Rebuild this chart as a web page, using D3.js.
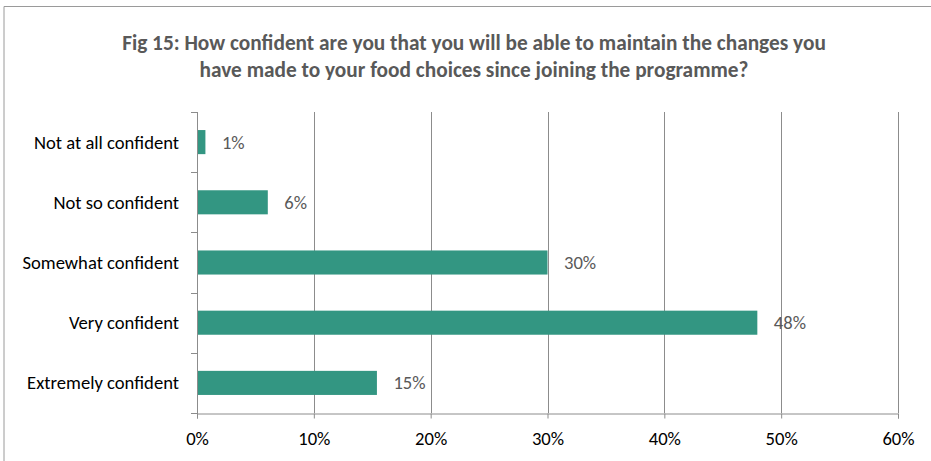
<!DOCTYPE html>
<html>
<head>
<meta charset="utf-8">
<script src="https://cdn.jsdelivr.net/npm/d3@7"></script>
<style>
  html, body { margin: 0; padding: 0; background: #fff; }
  svg { display: block; }
  text { font-family: Carlito, Lato, "Open Sans", sans-serif; }
</style>
</head>
<body>
<svg id="chart" width="931" height="461"></svg>
<script>
// Survey responses: confidence in maintaining food-choice changes
const categories = [
  "Not at all confident",
  "Not so confident",
  "Somewhat confident",
  "Very confident",
  "Extremely confident"
];
const shares = [0.0072, 0.0606, 0.300, 0.4796, 0.154];
const xTicks = [0, 0.1, 0.2, 0.3, 0.4, 0.5, 0.6];
const titleLines = [
  "Fig 15: How confident are you that you will be able to maintain the changes you",
  "have made to your food choices since joining the programme?"
];

const svg = d3.select("#chart");
const W = 931, H = 461;
const plot = { left: 197, right: 898, top: 112, bottom: 413 };
const barColor = "#339682";
const gridColor = "#8c8c8c";
const labelGray = "#595959";

// Frame around the chart area
svg.append("path")
  .attr("d", `M4,${H} V6.5 H${W}`)
  .attr("fill", "none")
  .attr("stroke", "#9a9a9a")
  .attr("stroke-width", 1);

const x = d3.scaleLinear().domain([0, 0.6]).range([plot.left, plot.right]);
const y = d3.scaleBand()
  .domain(categories)
  .range([plot.top, plot.bottom])
  .paddingInner(0.6)
  .paddingOuter(0.3);

// Fit a text node's font size to a target width
function fit(sel, target) {
  sel.each(function () {
    const n = d3.select(this);
    const base = parseFloat(n.attr("font-size"));
    const w = this.getComputedTextLength();
    n.attr("font-size", (base * target / w).toFixed(2));
  });
}

// Title
const title = svg.append("g").attr("fill", labelGray).attr("font-weight", "bold");
title.selectAll("text").data(titleLines).join("text")
  .attr("x", 474)
  .attr("y", (d, i) => 50 + i * 27)
  .attr("text-anchor", "middle")
  .attr("font-size", 18)
  .text(d => d);
fit(title.select("text"), 704);
title.selectAll("text").attr("font-size", title.select("text").attr("font-size"));

// Vertical gridlines
svg.append("g").selectAll("line")
  .data(xTicks.filter(t => t > 0))
  .join("line")
  .attr("x1", d => Math.round(x(d)) + 0.5)
  .attr("x2", d => Math.round(x(d)) + 0.5)
  .attr("y1", plot.top)
  .attr("y2", plot.bottom)
  .attr("stroke", gridColor)
  .attr("stroke-width", 1);

// Bars
svg.append("g").selectAll("rect")
  .data(categories)
  .join("rect")
  .attr("x", x(0))
  .attr("y", d => y(d))
  .attr("width", (d, i) => x(shares[i]) - x(0))
  .attr("height", y.bandwidth())
  .attr("fill", barColor);

// X axis
const xAxis = svg.append("g")
  .attr("transform", `translate(0,${plot.bottom + 0.5})`)
  .call(d3.axisBottom(x).tickValues(xTicks).tickFormat(d3.format(".0%")).tickSize(5).tickPadding(13));
xAxis.select(".domain").attr("stroke", gridColor);
xAxis.selectAll(".tick line").attr("stroke", gridColor);
xAxis.selectAll(".tick text").attr("fill", "#000").attr("font-size", 15);

// Y axis: line plus ticks at category boundaries
svg.append("line")
  .attr("x1", plot.left + 0.5).attr("x2", plot.left + 0.5)
  .attr("y1", plot.top).attr("y2", plot.bottom + 5)
  .attr("stroke", gridColor);
const bounds = d3.range(categories.length + 1).map(i => plot.top + i * y.step());
svg.append("g").selectAll("line")
  .data(bounds)
  .join("line")
  .attr("x1", plot.left - 6)
  .attr("x2", plot.left)
  .attr("y1", d => Math.round(d) + 0.5)
  .attr("y2", d => Math.round(d) + 0.5)
  .attr("stroke", gridColor);

// Category labels
const catLabels = svg.append("g").selectAll("text")
  .data(categories)
  .join("text")
  .attr("x", 179)
  .attr("y", d => y(d) + y.bandwidth() / 2)
  .attr("dy", "0.35em")
  .attr("text-anchor", "end")
  .attr("fill", "#000")
  .attr("font-size", 16)
  .text(d => d);
fit(catLabels.filter((d, i) => i === 4), 152);
const bodySize = catLabels.filter((d, i) => i === 4).attr("font-size");
catLabels.attr("font-size", bodySize);
xAxis.selectAll(".tick text").attr("font-size", bodySize);

// Value labels
svg.append("g").selectAll("text")
  .data(categories)
  .join("text")
  .attr("x", (d, i) => x(shares[i]) + 16.5)
  .attr("y", d => y(d) + y.bandwidth() / 2)
  .attr("dy", "0.35em")
  .attr("fill", labelGray)
  .attr("font-size", bodySize)
  .text((d, i) => d3.format(".0%")(shares[i]));
</script>
</body>
</html>
